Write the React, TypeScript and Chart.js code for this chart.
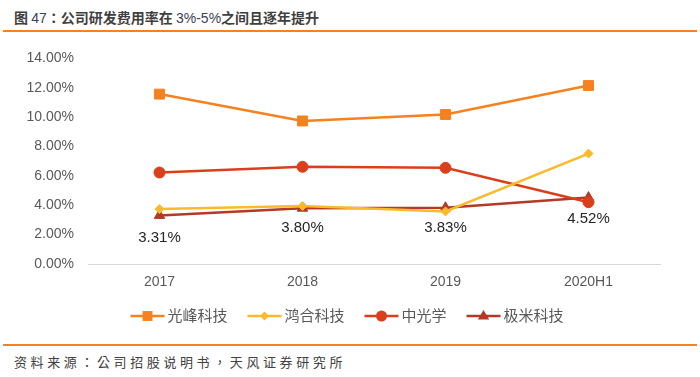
import React, { useEffect, useRef } from "react";
import { Chart, registerables } from "chart.js";

Chart.register(...registerables);

const categories = ["2017", "2018", "2019", "2020H1"];
const guangfeng = [11.57, 9.74, 10.18, 12.15];
const honghe = [3.74, 3.95, 3.58, 7.52];
const zhongguangxue = [6.23, 6.62, 6.55, 4.21];
const jimi = [3.31, 3.8, 3.83, 4.52];
const jimiLabels = ["3.31%", "3.80%", "3.83%", "4.52%"];
const seriesNames = ["光峰科技", "鸿合科技", "中光学", "极米科技"];
const yTicks = [0, 2, 4, 6, 8, 10, 12, 14];

const colors = ["#F5821F", "#FBBA2C", "#DA3F1B", "#B23A26"];
const pointStyles = ["rect", "rectRot", "circle", "triangle"];
const pointRadii = [7, 4.5, 5.5, 6];
const FONT = "'Liberation Sans', Arial, 'Noto Sans CJK SC', sans-serif";
const CJK_TC = "'Noto Sans CJK TC', 'Noto Sans CJK SC', sans-serif";

function drawMarker(ctx: CanvasRenderingContext2D, style: string, r: number, x: number, y: number) {
  ctx.beginPath();
  if (style === "rect") {
    const s = Math.SQRT1_2 * r;
    ctx.rect(x - s, y - s, 2 * s, 2 * s);
  } else if (style === "rectRot") {
    ctx.moveTo(x, y - r);
    ctx.lineTo(x + r, y);
    ctx.lineTo(x, y + r);
    ctx.lineTo(x - r, y);
    ctx.closePath();
  } else if (style === "circle") {
    ctx.arc(x, y, r, 0, Math.PI * 2);
  } else {
    ctx.moveTo(x, y - r);
    ctx.lineTo(x + r * 0.95, y + r * 0.6);
    ctx.lineTo(x - r * 0.95, y + r * 0.6);
    ctx.closePath();
  }
  ctx.fill();
}

const labelPlugin = {
  id: "jimiLabels",
  afterDatasetsDraw(chart: any) {
    const ctx = chart.ctx;
    const meta = chart.getDatasetMeta(3);
    ctx.save();
    ctx.font = `15px ${FONT}`;
    ctx.fillStyle = "#262626";
    ctx.textAlign = "center";
    ctx.textBaseline = "middle";
    const offsets = [22, 20, 20, 21];
    meta.data.forEach((pt: any, i: number) => {
      ctx.fillText(jimiLabels[i], pt.x, pt.y + offsets[i]);
    });
    ctx.restore();
  },
};

const legendPlugin = {
  id: "customLegend",
  afterDraw(chart: any) {
    const ctx = chart.ctx;
    ctx.save();
    ctx.font = `15px ${FONT}`;
    const lineLen = 34;
    const gapText = 3;
    const gapItem = 20;
    const widths = seriesNames.map((n) => lineLen + gapText + ctx.measureText(n).width);
    const total = widths.reduce((a, b) => a + b, 0) + gapItem * (seriesNames.length - 1);
    let x = 347 - total / 2;
    const y = 280;
    seriesNames.forEach((n, i) => {
      ctx.strokeStyle = colors[i];
      ctx.lineWidth = 2.5;
      ctx.beginPath();
      ctx.moveTo(x, y);
      ctx.lineTo(x + lineLen, y);
      ctx.stroke();
      ctx.fillStyle = colors[i];
      drawMarker(ctx, pointStyles[i], pointRadii[i], x + lineLen / 2, y);
      ctx.fillStyle = "#595959";
      ctx.textBaseline = "middle";
      ctx.textAlign = "left";
      ctx.fillText(n, x + lineLen + gapText, y + 1);
      x += widths[i] + gapItem;
    });
    ctx.restore();
  },
};

export default function App() {
  const ref = useRef<HTMLCanvasElement>(null);
  useEffect(() => {
    document.body.style.margin = "0";
    const data = [guangfeng, honghe, zhongguangxue, jimi];
    const chart = new Chart(ref.current!, {
      type: "line",
      data: {
        labels: categories,
        datasets: data.map((d, i) => ({
          label: seriesNames[i],
          data: d,
          borderColor: colors[i],
          backgroundColor: colors[i],
          borderWidth: 2.5,
          pointStyle: pointStyles[i] as any,
          pointRadius: pointRadii[i],
          pointHoverRadius: pointRadii[i],
          pointBorderWidth: 1,
          pointBackgroundColor: colors[i],
          pointBorderColor: colors[i],
          tension: 0,
        })),
      },
      options: {
        animation: false,
        responsive: false,
        maintainAspectRatio: false,
        layout: { padding: { top: 21, right: 40, left: 0, bottom: 0 } },
        plugins: { legend: { display: false }, tooltip: { enabled: false } },
        scales: {
          x: {
            offset: true,
            grid: { display: false, drawTicks: false },
            border: { display: true, color: "#D9D9D9", width: 1 },
            ticks: { color: "#595959", font: { size: 14, family: FONT }, padding: 10 },
            afterFit(scale: any) {
              scale.height = 76;
            },
          },
          y: {
            min: 0,
            max: 14,
            grid: { display: false, drawTicks: false },
            border: { display: false },
            afterBuildTicks(scale: any) {
              scale.ticks = yTicks.map((v) => ({ value: v }));
            },
            ticks: {
              color: "#595959",
              font: { size: 14, family: FONT },
              padding: 14,
              callback: (v: any) => Number(v).toFixed(2) + "%",
            },
            afterFit(scale: any) {
              scale.width = 88;
            },
          },
        },
      },
      plugins: [labelPlugin, legendPlugin],
    });
    return () => chart.destroy();
  }, []);

  return (
    <div style={{ position: "absolute", left: 0, top: 0, width: 700, height: 377, background: "#fff", fontFamily: FONT }}>
      <div
        style={{
          position: "absolute",
          left: 14,
          top: 8,
          fontSize: 14,
          fontWeight: "bold",
          color: "#3F3F3F",
          whiteSpace: "nowrap",
          fontFamily: "'Noto Sans CJK SC', sans-serif",
          lineHeight: "18px",
        }}
      >
        图 <span style={{ fontFamily: FONT, fontWeight: "normal", color: "#3a3f5a" }}>47</span>
        <span style={{ fontFamily: CJK_TC }}>：</span>公司研发费用率在{" "}
        <span style={{ fontFamily: FONT, fontWeight: "normal", color: "#3a3f5a" }}>3%-5%</span>之间且逐年提升
      </div>
      <div style={{ position: "absolute", left: 3, top: 30, width: 694, height: 2, background: "#F5821F" }} />
      <canvas ref={ref} width={700} height={304} style={{ position: "absolute", left: 0, top: 36, width: 700, height: 304 }} />
      <div style={{ position: "absolute", left: 3, top: 344, width: 694, height: 2, background: "#F5821F" }} />
      <div
        style={{
          position: "absolute",
          left: 14,
          top: 354,
          fontSize: 13,
          letterSpacing: "3.6px",
          color: "#404040",
          whiteSpace: "nowrap",
          fontFamily: CJK_TC,
          lineHeight: "16px",
        }}
      >
        资料来源：公司招股说明书，天风证券研究所
      </div>
    </div>
  );
}
